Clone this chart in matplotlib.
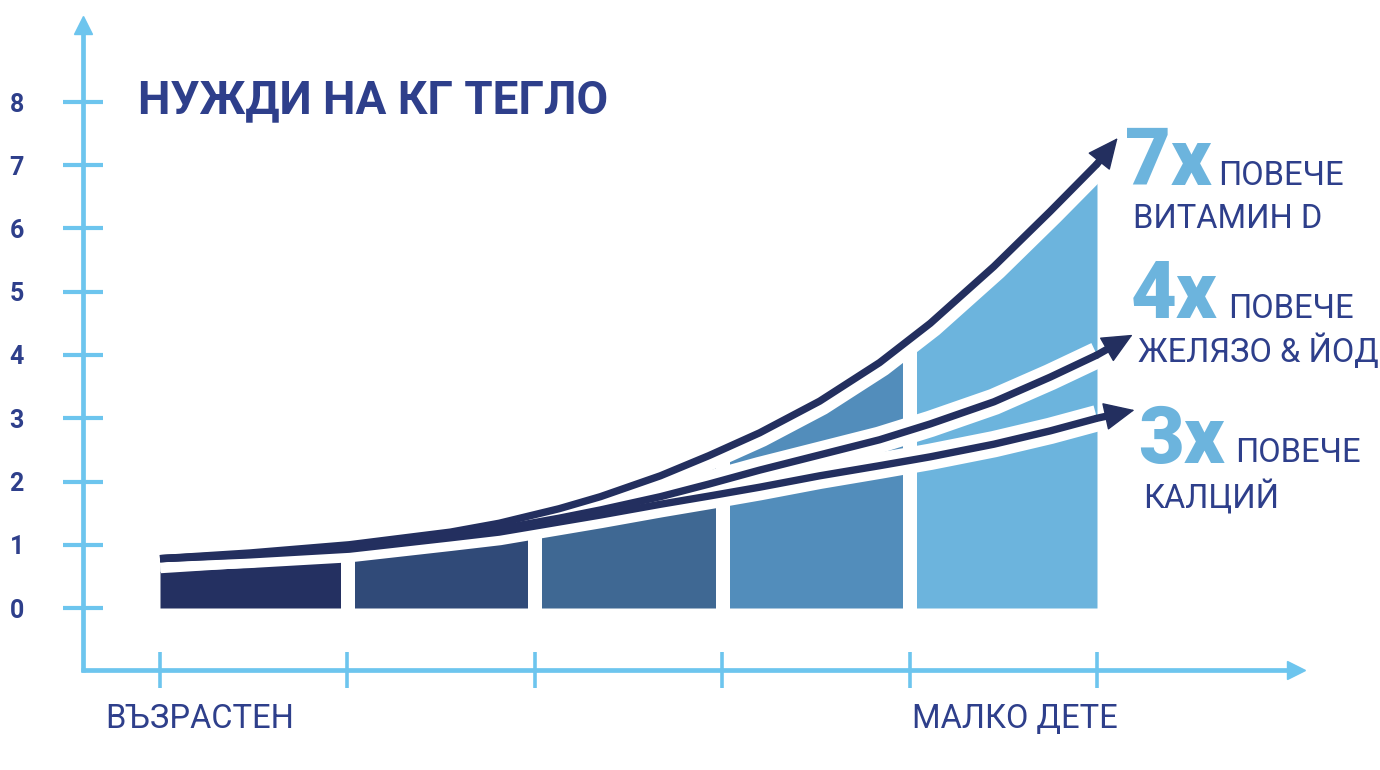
import matplotlib
matplotlib.use("Agg")
import matplotlib.pyplot as plt
from matplotlib.patches import Rectangle

# axis ticks
y_ticks = [0, 1, 2, 3, 4, 5, 6, 7, 8]
x_ticks = [0, 1, 2, 3, 4, 5]
x_labels = ["ВЪЗРАСТЕН", "МАЛКО ДЕТЕ"]
title = "НУЖДИ НА КГ ТЕГЛО"

# curves (x = stage position, y = need per kg)
stage_x = [0, 0.48, 1.01, 1.55, 1.81, 2.13, 2.35, 2.67, 2.93, 3.20, 3.52, 3.84, 4.11, 4.45, 4.75, 5.0]
vitd_y = [0.78, 0.87, 1.00, 1.20, 1.34, 1.57, 1.76, 2.09, 2.41, 2.77, 3.27, 3.88, 4.50, 5.40, 6.27, 7.02]
iron_y = [0.78, 0.85, 0.97, 1.15, 1.25, 1.42, 1.55, 1.76, 1.96, 2.18, 2.42, 2.66, 2.91, 3.26, 3.65, 4.00]
calc_y = [0.78, 0.84, 0.93, 1.11, 1.20, 1.36, 1.47, 1.64, 1.77, 1.91, 2.09, 2.25, 2.39, 2.59, 2.80, 3.00]
vitd_tip = (5.11, 7.43)
iron_tip = (5.19, 4.32)
calc_tip = (5.20, 3.13)

factors = ["7x", "4x", "3x"]
more = "ПОВЕЧЕ"
nutrients = ["ВИТАМИН D", "ЖЕЛЯЗО & ЙОД", "КАЛЦИЙ"]

NAVY = "#232F5F"
TEXT = "#2E3F8B"
AXIS = "#6DC5EE"
LIGHT = "#6CB4DD"
seg_colors = ["#243061", "#304A78", "#3F6893", "#528DBB", "#6CB4DD"]
FONT = "Roboto"


# pixel -> data helpers for the layout
def px(v):
    return (v - 160) / 187.4


def py(v):
    return (608 - v) / 63.25


fig = plt.figure(figsize=(13.8, 7.7), dpi=100)
ax = fig.add_axes([0, 0, 1, 1])
ax.set_xlim(px(0), px(1380))
ax.set_ylim(py(770), py(0))

# axes
for s in ["top", "right"]:
    ax.spines[s].set_visible(False)
ax.spines["left"].set_position(("data", px(83)))
ax.spines["bottom"].set_position(("data", py(670)))
ax.spines["left"].set_bounds(py(672), py(30))
ax.spines["bottom"].set_bounds(px(81), px(1292))
for s in ["left", "bottom"]:
    ax.spines[s].set_color(AXIS)
    ax.spines[s].set_linewidth(3.4)
    ax.spines[s].set_capstyle("butt")
ax.plot([px(83)], [py(25)], marker="^", ms=13, color=AXIS, clip_on=False)
ax.plot([px(1296)], [py(670)], marker=">", ms=13, color=AXIS, clip_on=False)

ax.set_yticks(y_ticks)
ax.set_xticks(x_ticks)
ax.set_xticklabels([])
ax.tick_params(axis="y", direction="inout", length=29, width=3, color=AXIS,
               pad=28, labelsize=18, labelcolor=TEXT)
ax.tick_params(axis="x", direction="inout", length=26, width=2.6, color=AXIS)
for lbl in ax.get_yticklabels():
    lbl.set_fontweight("bold")
    lbl.set_family(FONT)

# filled segments under the top curve
gap = 0.039
for i, c in enumerate(seg_colors):
    left = x_ticks[i] + (gap if i > 0 else 0)
    right = x_ticks[i + 1] - (gap if i < len(seg_colors) - 1 else 0)
    poly = ax.fill_between(stage_x, 0, vitd_y, color=c, lw=0, zorder=2)
    poly.set_clip_path(Rectangle((left, -1), right - left, 12, transform=ax.transData))

curves = [(vitd_y, vitd_tip, 21), (iron_y, iron_tip, 19), (calc_y, calc_tip, 19)]
for cy, tip, wl in curves:
    ax.plot(stage_x, cy, color="white", lw=wl, solid_capstyle="butt",
            solid_joinstyle="round", zorder=3)
for cy, tip, wl in curves:
    ax.plot(stage_x, cy, color=NAVY, lw=5.3, solid_capstyle="butt",
            solid_joinstyle="round", zorder=4)
    ax.annotate("", xy=tip, xytext=(stage_x[-1], cy[-1]),
                arrowprops=dict(arrowstyle="-", lw=5.3, color=NAVY, shrinkA=0, shrinkB=16),
                zorder=4)
    ax.annotate("", xy=tip, xytext=(stage_x[-1], cy[-1]),
                arrowprops=dict(arrowstyle="-|>,head_length=0.5,head_width=0.23", mutation_scale=40,
                                lw=1, color=NAVY, shrinkA=0, shrinkB=0),
                zorder=5)

# texts
ax.text(px(138), py(113), title, ha="left", va="baseline", fontsize=33,
        fontweight="bold", color=TEXT, family=FONT)
ax.text(px(105), py(728), x_labels[0], ha="left", va="baseline", fontsize=23.5,
        color=TEXT, family=FONT)
ax.text(px(912), py(728), x_labels[1], ha="left", va="baseline", fontsize=23.5,
        color=TEXT, family=FONT)

big_pos = [(1125, 185), (1131, 318), (1138, 463)]
more_pos = [(1218, 185), (1228, 318), (1235, 462)]
nut_pos = [(1133, 228), (1138, 362), (1143, 508)]
for f, n, bp, mp, npos in zip(factors, nutrients, big_pos, more_pos, nut_pos):
    ax.text(px(bp[0]), py(bp[1]), f, ha="left", va="baseline", fontsize=57,
            fontweight="black", color=LIGHT, family=FONT)
    ax.text(px(mp[0]), py(mp[1]), more, ha="left", va="baseline", fontsize=23.5,
            color=TEXT, family=FONT)
    ax.text(px(npos[0]), py(npos[1]), n, ha="left", va="baseline", fontsize=23.5,
            color=TEXT, family=FONT)

fig.savefig("out.png", dpi=100, facecolor="white")
